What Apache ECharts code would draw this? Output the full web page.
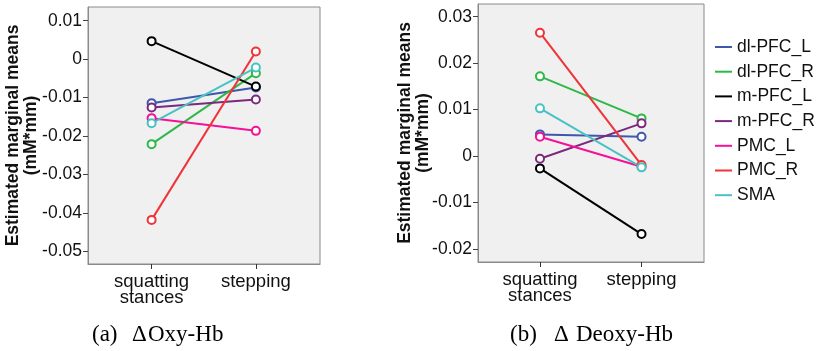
<!DOCTYPE html>
<html>
<head>
<meta charset="utf-8">
<script src="https://cdn.jsdelivr.net/npm/echarts@6/dist/echarts.min.js"></script>
<style>
  html, body { margin: 0; padding: 0; background: #fff; }
  #chart { width: 817px; height: 351px; }
</style>
</head>
<body>
<div id="chart"></div>
<script>
// Estimated marginal means per region, two conditions each
const conditions = ['squatting\nstances', 'stepping'];
const regions = ['dl-PFC_L', 'dl-PFC_R', 'm-PFC_L', 'm-PFC_R', 'PMC_L', 'PMC_R', 'SMA'];
const regionColors = ['#3E58AC', '#2EB848', '#000000', '#7C287D', '#F70F96', '#EF3338', '#48C2C5'];

// ΔOxy-Hb (mM*mm): [squatting stances, stepping]
const oxyDlPfcL = [-0.01145, -0.00739];
const oxyDlPfcR = [-0.02212, -0.00364];
const oxyMPfcL  = [0.00468, -0.00713];
const oxyMPfcR  = [-0.01259, -0.01051];
const oxyPmcL   = [-0.01535, -0.01866];
const oxyPmcR   = [-0.04182, 0.00198];
const oxySma    = [-0.01665, -0.00219];

// ΔDeoxy-Hb (mM*mm): [squatting stances, stepping]
const deoxyDlPfcL = [0.00467, 0.00415];
const deoxyDlPfcR = [0.01716, 0.00811];
const deoxyMPfcL  = [-0.00265, -0.01679];
const deoxyMPfcR  = [-0.00058, 0.00704];
const deoxyPmcL   = [0.00415, -0.0023];
const deoxyPmcR   = [0.02656, -0.00194];
const deoxySma    = [0.01027, -0.00243];

// Y tick labels
const oxyTicks = ['0.01', '0', '-0.01', '-0.02', '-0.03', '-0.04', '-0.05'];
const deoxyTicks = ['0.03', '0.02', '0.01', '0', '-0.01', '-0.02'];

const oxySets = [oxyDlPfcL, oxyDlPfcR, oxyMPfcL, oxyMPfcR, oxyPmcL, oxyPmcR, oxySma];
const deoxySets = [deoxyDlPfcL, deoxyDlPfcR, deoxyMPfcL, deoxyMPfcR, deoxyPmcL, deoxyPmcR, deoxySma];

const FONT = "'Liberation Sans', Arial, sans-serif";
const SERIF = "'Liberation Serif', 'Times New Roman', serif";
const TXT = '#111';

const chart = echarts.init(document.getElementById('chart'), null, { renderer: 'canvas' });

function xAxisFor(gridIndex) {
  return {
    type: 'value', gridIndex: gridIndex, min: -0.61, max: 1.615,
    position: 'bottom',
    axisLine: { show: true, onZero: false, lineStyle: { color: '#8a8a8a', width: 1 } },
    splitLine: { show: false },
    axisTick: { show: true, length: 5, customValues: [0, 1], lineStyle: { color: '#333', width: 1 } },
    axisLabel: {
      customValues: [0, 1], margin: 10,
      formatter: v => conditions[Math.round(v)],
      color: TXT, fontFamily: FONT, fontSize: 18.5, lineHeight: 16
    }
  };
}

function yAxisFor(gridIndex, min, max, ticks, gap) {
  const vals = ticks.map(Number);
  return {
    type: 'value', gridIndex: gridIndex, min: min, max: max,
    position: 'left',
    axisLine: { show: true, onZero: false, lineStyle: { color: '#8a8a8a', width: 1 } },
    splitLine: { show: false },
    axisTick: { show: true, length: 5, customValues: vals, lineStyle: { color: '#444' } },
    axisLabel: {
      customValues: vals, margin: 6,
      formatter: v => ticks[vals.findIndex(t => Math.abs(t - v) < 1e-9)],
      color: TXT, fontFamily: FONT, fontSize: 17.5
    },
    name: 'Estimated marginal means\n(mM*mm)',
    nameLocation: 'middle', nameRotate: 90, nameGap: gap, nameMoveOverlap: false,
    nameTextStyle: { color: TXT, fontFamily: FONT, fontSize: 17.5, fontWeight: 'bold', lineHeight: 18 }
  };
}

function seriesFor(sets, axisIndex) {
  return sets.map((vals, i) => ({
    name: regions[i],
    type: 'line',
    xAxisIndex: axisIndex, yAxisIndex: axisIndex,
    data: vals.map((v, k) => [k, v]),
    symbol: 'circle', symbolSize: 8,
    lineStyle: { color: regionColors[i], width: 2 },
    itemStyle: { color: '#ffffff', borderColor: regionColors[i], borderWidth: 2 },
    emphasis: { disabled: true },
    animation: false
  }));
}

const gridStyle = { show: true, backgroundColor: '#f0f0f0', borderColor: '#8a8a8a', borderWidth: 1 };

chart.setOption({
  backgroundColor: '#ffffff',
  animation: false,
  grid: [
    Object.assign({ left: 88, top: 7, width: 232, height: 257 }, gridStyle),
    Object.assign({ left: 478, top: 4, width: 226, height: 258 }, gridStyle)
  ],
  xAxis: [xAxisFor(0), xAxisFor(1)],
  yAxis: [
    yAxisFor(0, -0.0533, 0.013565, oxyTicks, 47.5),
    yAxisFor(1, -0.0228, 0.032733, deoxyTicks, 45.5)
  ],
  legend: {
    orient: 'vertical', left: 715, top: 38, padding: 0,
    itemWidth: 17, itemHeight: 2, itemGap: 6.7, icon: 'rect',
    textStyle: { color: TXT, fontFamily: FONT, fontSize: 17.5, lineHeight: 17 },
    data: regions.map((r, i) => ({ name: r, itemStyle: { color: regionColors[i], borderWidth: 0 } }))
  },
  graphic: [
    { type: 'text', left: 92, top: 323, style: { text: '(a)', font: '23px ' + SERIF, fill: '#000' } },
    { type: 'text', left: 132, top: 323, style: { text: '\u0394', font: '23px ' + SERIF, fill: '#000' } },
    { type: 'text', left: 148, top: 323, style: { text: 'Oxy-Hb', font: '23px ' + SERIF, fill: '#000' } },
    { type: 'text', left: 510, top: 323, style: { text: '(b)', font: '23px ' + SERIF, fill: '#000' } },
    { type: 'text', left: 554, top: 323, style: { text: '\u0394', font: '23px ' + SERIF, fill: '#000' } },
    { type: 'text', left: 576, top: 323, style: { text: 'Deoxy-Hb', font: '23px ' + SERIF, fill: '#000' } }
  ],
  series: seriesFor(oxySets, 0).concat(seriesFor(deoxySets, 1))
});
</script>
</body>
</html>
